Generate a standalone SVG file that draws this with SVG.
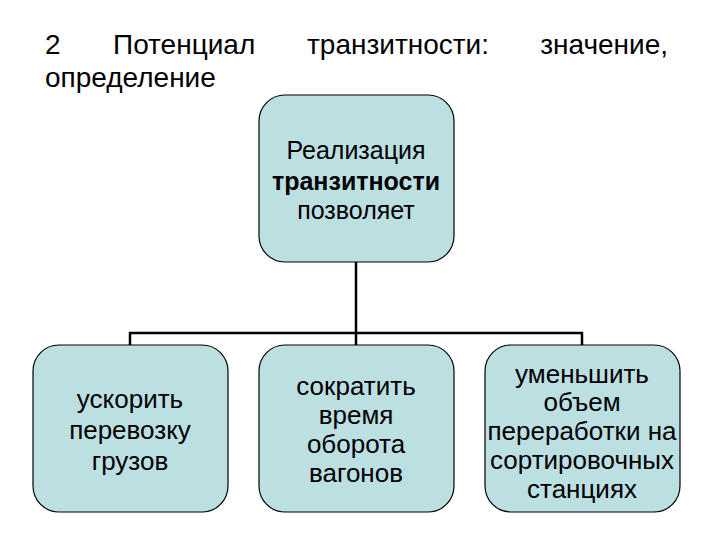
<svg xmlns="http://www.w3.org/2000/svg" width="720" height="540" viewBox="0 0 720 540">
<style>
.box{fill:#bcdfe2;stroke:#000;stroke-width:1.2}
.t{font-family:"Liberation Sans",Arial,sans-serif;font-size:26px;fill:#000;text-anchor:middle}
.tt{font-size:25px}
.h{font-family:"Liberation Sans",Arial,sans-serif;font-size:28px;fill:#000}
.c{fill:none;stroke:#000;stroke-width:2.5}
</style>
<rect width="720" height="540" fill="#fff"/>
<g id="title">
<text class="h" x="45" y="54">2</text>
<text class="h" x="113" y="54">Потенциал</text>
<text class="h" x="307" y="54">транзитности:</text>
<text class="h" x="668" y="54" text-anchor="end">значение,</text>
<text class="h" x="45" y="87">определение</text>
</g>
<g id="connectors">
<path class="c" d="M356 262V333M130 345V333H582V345M356 333V345"/>
</g>
<g id="n0">
<rect class="box" x="259" y="95" width="195" height="167" rx="26"/>
<text class="t tt" x="356" y="159">Реализация</text>
<text class="t tt" x="356" y="190" font-weight="bold">транзитности</text>
<text class="t tt" x="356" y="219">позволяет</text>
</g>
<g id="n1">
<rect class="box" x="33" y="345" width="195" height="167" rx="26"/>
<text class="t" x="130" y="408">ускорить</text>
<text class="t" x="130" y="439">перевозку</text>
<text class="t" x="130" y="470">грузов</text>
</g>
<g id="n2">
<rect class="box" x="259" y="345" width="195" height="167" rx="26"/>
<text class="t" x="356" y="395">сократить</text>
<text class="t" x="356" y="424">время</text>
<text class="t" x="356" y="453">оборота</text>
<text class="t" x="356" y="482">вагонов</text>
</g>
<g id="n3">
<rect class="box" x="485" y="345" width="195" height="167" rx="26"/>
<text class="t" x="582" y="383">уменьшить</text>
<text class="t" x="582" y="411">объем</text>
<text class="t" x="582" y="440">переработки на</text>
<text class="t" x="582" y="469">сортировочных</text>
<text class="t" x="582" y="498">станциях</text>
</g>
</svg>
